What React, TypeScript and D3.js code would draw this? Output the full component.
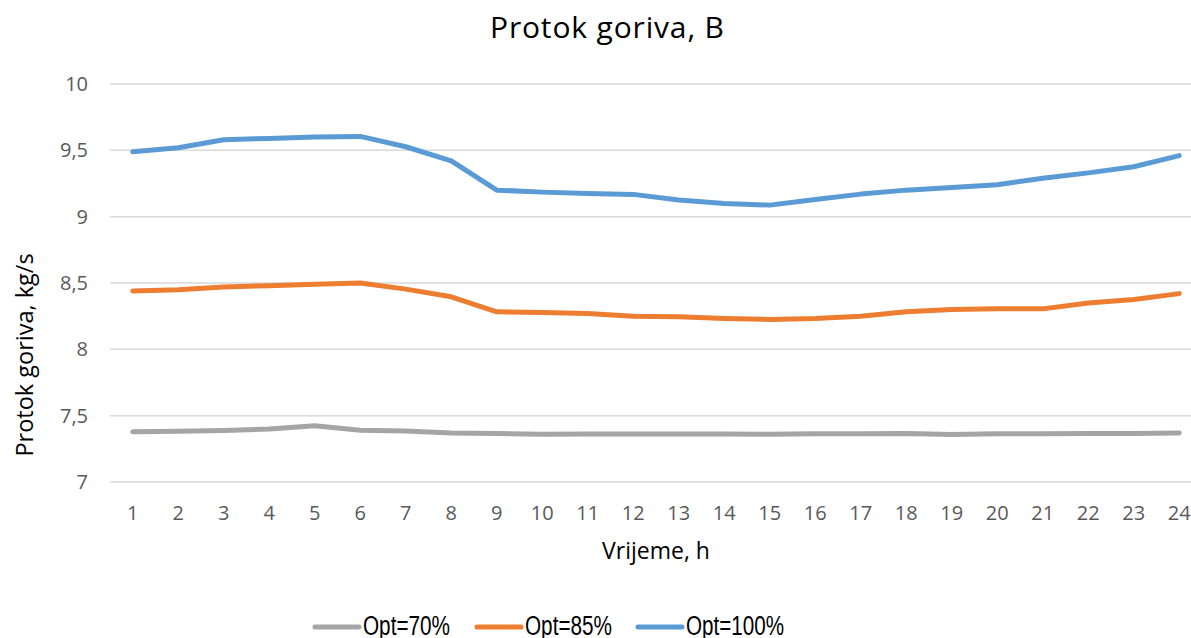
import React, { useRef, useEffect } from 'react';
import * as d3 from 'd3';

const hours = ['1','2','3','4','5','6','7','8','9','10','11','12','13','14','15','16','17','18','19','20','21','22','23','24'];

const opt70 = [7.378, 7.382, 7.388, 7.40, 7.424, 7.39, 7.385, 7.37, 7.365, 7.36, 7.362, 7.362, 7.362, 7.362, 7.36, 7.363, 7.364, 7.366, 7.358, 7.364, 7.364, 7.366, 7.366, 7.37];
const opt85 = [8.44, 8.45, 8.47, 8.48, 8.49, 8.50, 8.454, 8.396, 8.283, 8.278, 8.27, 8.25, 8.245, 8.233, 8.225, 8.233, 8.25, 8.283, 8.30, 8.305, 8.305, 8.35, 8.375, 8.42];
const opt100 = [9.49, 9.52, 9.58, 9.59, 9.60, 9.605, 9.527, 9.42, 9.20, 9.185, 9.175, 9.168, 9.125, 9.10, 9.087, 9.13, 9.17, 9.20, 9.22, 9.24, 9.29, 9.33, 9.376, 9.46];

const yTicks = [7, 7.5, 8, 8.5, 9, 9.5, 10];

const seriesNames = ['Opt=70%', 'Opt=85%', 'Opt=100%'];
const seriesColors = ['#A5A5A5', '#ED7D31', '#5B9BD5'];

export default function App() {
    const chartRef = useRef(null);

    useEffect(() => {
        const W = 1191, H = 638;
        const margin = { top: 84, bottom: 156, left: 110, right: -11 };

        const svg = d3.select(chartRef.current);
        svg.selectAll('*').remove();
        svg.attr('width', W).attr('height', H);

        const font = '"Open Sans", "DejaVu Sans", sans-serif';

        // x-scale (category centred points)
        const x = d3.scalePoint()
            .domain(hours)
            .range([margin.left, W - margin.right])
            .padding(0.5);

        // y-scale
        const y = d3.scaleLinear()
            .domain([7, 10])
            .range([H - margin.bottom, margin.top]);

        // grid
        svg.append('g')
            .selectAll('line')
            .data(yTicks)
            .join('line')
                .attr('x1', margin.left)
                .attr('x2', W - margin.right)
                .attr('y1', d => y(d))
                .attr('y2', d => y(d))
                .attr('stroke', '#D9D9D9')
                .attr('stroke-width', 1.5);

        // y tick labels
        svg.append('g')
            .selectAll('text')
            .data(yTicks)
            .join('text')
                .attr('x', 88)
                .attr('y', d => y(d))
                .attr('dy', '0.35em')
                .attr('text-anchor', 'end')
                .style('font-family', font)
                .style('font-size', '20px')
                .attr('fill', '#595959')
                .text(d => String(d).replace('.', ','));

        // x tick labels
        svg.append('g')
            .selectAll('text')
            .data(hours)
            .join('text')
                .attr('x', d => x(d))
                .attr('y', 520)
                .attr('text-anchor', 'middle')
                .style('font-family', font)
                .style('font-size', '20px')
                .attr('fill', '#595959')
                .text(d => d);

        // lines
        const allSeries = [opt70, opt85, opt100];
        const line = d3.line()
            .x((d, i) => x(hours[i]))
            .y(d => y(d));
        allSeries.forEach((s, k) => {
            svg.append('path')
                .datum(s)
                .attr('fill', 'none')
                .attr('stroke', seriesColors[k])
                .attr('stroke-width', 5)
                .attr('stroke-linecap', 'round')
                .attr('stroke-linejoin', 'round')
                .attr('d', line);
        });

        // title
        svg.append('text')
            .attr('x', 607)
            .attr('y', 38)
            .attr('text-anchor', 'middle')
            .attr('textLength', 234)
            .attr('lengthAdjust', 'spacing')
            .style('font-family', font)
            .style('font-size', '30px')
            .attr('fill', '#000')
            .text('Protok goriva, B');

        // axis titles
        svg.append('text')
            .attr('x', 656)
            .attr('y', 559)
            .attr('text-anchor', 'middle')
            .style('font-family', font)
            .style('font-size', '23px')
            .attr('fill', '#000')
            .text('Vrijeme, h');

        svg.append('text')
            .attr('transform', 'translate(33,355) rotate(-90)')
            .attr('text-anchor', 'middle')
            .style('font-family', font)
            .style('font-size', '23.5px')
            .attr('fill', '#000')
            .text('Protok goriva, kg/s');

        // legend
        const legendX = [315, 477, 638];
        const legendLen = [87, 87, 98];
        const lg = svg.append('g');
        seriesNames.forEach((name, k) => {
            lg.append('line')
                .attr('x1', legendX[k])
                .attr('x2', legendX[k] + 44)
                .attr('y1', 627)
                .attr('y2', 627)
                .attr('stroke', seriesColors[k])
                .attr('stroke-width', 5)
                .attr('stroke-linecap', 'round');
            lg.append('text')
                .attr('x', legendX[k] + 48)
                .attr('y', 635)
                .attr('textLength', legendLen[k])
                .attr('lengthAdjust', 'spacingAndGlyphs')
                .style('font-family', '"Liberation Sans", Arial, sans-serif')
                .style('font-size', '27px')
                .attr('fill', '#000')
                .text(name);
        });
    }, []);

    return <div style={{ position: 'absolute', left: 0, top: 0, width: '1191px', height: '638px', background: '#fff', overflow: 'hidden' }}>
        <svg ref={chartRef}></svg>
    </div>;
}
